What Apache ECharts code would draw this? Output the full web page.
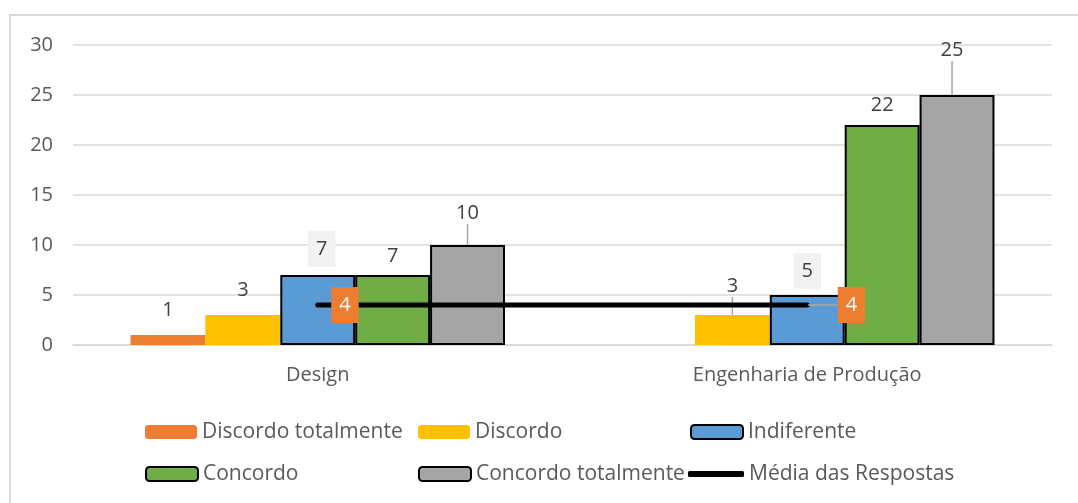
<!DOCTYPE html>
<html>
<head>
<meta charset="utf-8">
<script src="https://cdn.jsdelivr.net/npm/echarts@6/dist/echarts.min.js"></script>
<style>
  html, body { margin: 0; padding: 0; background: #fff; }
  #chart { width: 1078px; height: 503px; }
</style>
</head>
<body>
<div id="chart"></div>
<script>
// Respostas por curso
const categories = ['Design', 'Engenharia de Produção'];
const seriesNames = ['Discordo totalmente', 'Discordo', 'Indiferente', 'Concordo', 'Concordo totalmente', 'Média das Respostas'];
const discordoTotalmente = [1, 0];
const discordo = [3, 3];
const indiferente = [7, 5];
const concordo = [7, 22];
const concordoTotalmente = [10, 25];
const mediaRespostas = [4, 4];
const yTicks = [0, 5, 10, 15, 20, 25, 30];

const FONT = '"Open Sans", "Liberation Sans", sans-serif';
const TEXT = '#595959';
const LABEL = '#404040';
const colors = ['#ED7D31', '#FFC000', '#5B9BD5', '#70AD47', '#A5A5A5'];

// label distance above each bar and extra lift (with leader line) per series/category
const labelDist = [[14, 14], [14, 6], [8, 6], [8, 9], [4, 4]];
const labelLift = [[0, 0], [0, -12], [0, 0], [0, 0], [-17, -30]];
const labelShiftX = [[0, 0], [0, 0], [4, 0], [0, 0], [0, -5]];
// mean label: extra horizontal push (with leader line) per category
const meanShiftX = [0, 17];

function barSeries(idx, values, bordered, boxed) {
  return {
    name: seriesNames[idx],
    type: 'bar',
    barGap: '0%',
    barCategoryGap: '23.5%',
    itemStyle: {
      color: colors[idx],
      borderColor: bordered ? '#000' : colors[idx],
      borderWidth: bordered ? 2 : 0
    },
    data: values.map((v, i) => ({
      value: v,
      label: {
        show: v > 0,
        position: 'top',
        distance: labelDist[idx][i],
        color: LABEL,
        fontFamily: FONT,
        fontSize: 20,
        lineHeight: 22,
        backgroundColor: boxed ? '#F2F2F2' : 'transparent',
        padding: boxed ? [7, 8] : 0
      },
      labelLine: {
        show: labelLift[idx][i] !== 0,
        lineStyle: { color: '#A6A6A6', width: 1.5 }
      }
    })),
    labelLayout: function (p) {
      return { dy: labelLift[idx][p.dataIndex], dx: labelShiftX[idx][p.dataIndex] };
    },
    z: 2
  };
}

const chart = echarts.init(document.getElementById('chart'), null, { renderer: 'canvas' });

const legendLeft = [145, 418, 690, 145, 418, 690];
const legendTop = [420, 420, 420, 462, 462, 462];

const option = {
  animation: false,
  backgroundColor: '#fff',
  textStyle: { fontFamily: FONT },
  graphic: [{
    type: 'rect',
    shape: { x: 10, y: 15, width: 1100, height: 600 },
    style: { fill: 'none', stroke: '#D9D9D9', lineWidth: 2 },
    silent: true,
    z: -10
  }],
  grid: { left: 73, right: 26, top: 45, bottom: 158 },
  legend: seriesNames.map((n, i) => ({
    data: i === 5 ? [{ name: n, icon: 'roundRect', itemStyle: { color: '#000' } }] : [n],
    left: i === 5 ? legendLeft[i] - 2 : legendLeft[i],
    top: legendTop[i],
    padding: 0,
    itemWidth: i === 5 ? 56 : 52,
    itemHeight: i === 5 ? 6 : 14,
    textStyle: { color: TEXT, fontFamily: FONT, fontSize: 21, lineHeight: 24 },
    selectedMode: false
  })),
  xAxis: {
    type: 'category',
    data: categories,
    axisLine: { lineStyle: { color: '#D9D9D9', width: 1.5 } },
    axisTick: { show: false },
    axisLabel: { color: TEXT, fontFamily: FONT, fontSize: 20, margin: 20 }
  },
  yAxis: {
    type: 'value',
    min: yTicks[0],
    max: yTicks[yTicks.length - 1],
    interval: yTicks[1] - yTicks[0],
    axisLine: { show: false },
    axisTick: { show: false },
    splitLine: { lineStyle: { color: '#D9D9D9', width: 1.5 } },
    axisLabel: { color: TEXT, fontFamily: FONT, fontSize: 20, margin: 20 }
  },
  series: [
    barSeries(0, discordoTotalmente, false, false),
    barSeries(1, discordo, false, false),
    barSeries(2, indiferente, true, true),
    barSeries(3, concordo, true, false),
    barSeries(4, concordoTotalmente, true, false),
    {
      name: seriesNames[5],
      type: 'line',
      data: mediaRespostas.map((v, i) => ({
        value: v,
        label: {
          show: true,
          position: 'right',
          distance: 13,
          offset: [0, -9],
          color: '#fff',
          fontFamily: FONT,
          fontSize: 20,
          lineHeight: 22,
          backgroundColor: '#ED7D31',
          padding: [7, 8]
        },
        labelLine: {
          show: meanShiftX[i] !== 0,
          lineStyle: { color: '#A6A6A6', width: 1.5 }
        }
      })),
      labelLayout: function (p) {
        return { dx: meanShiftX[p.dataIndex] };
      },
      symbol: 'circle',
      symbolSize: 1,
      showSymbol: true,
      lineStyle: { color: '#000', width: 5, cap: 'round' },
      itemStyle: { color: '#000' },
      z: 5
    }
  ]
};

chart.setOption(option);
</script>
</body>
</html>
